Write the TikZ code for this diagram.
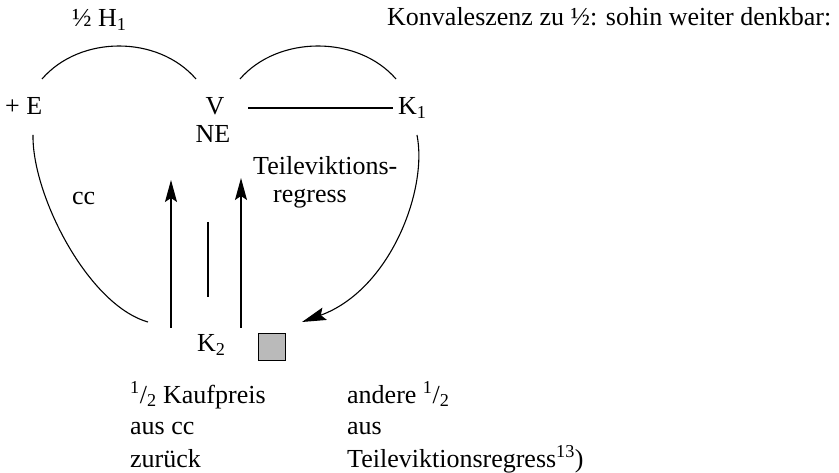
\documentclass[tikz,border=0pt]{standalone}
\usepackage{fontspec}
\setmainfont{Liberation Serif}
\usetikzlibrary{arrows.meta}
\newcommand{\fsz}{\fontsize{26}{31}\selectfont}
\tikzset{
  lbl/.style={inner sep=0pt, anchor=base west, font=\fsz},
  lblc/.style={inner sep=0pt, anchor=base, font=\fsz},
  thin line/.style={line width=1.1pt},
  arr/.style={line width=1.3pt, -{Stealth[length=22pt,width=12pt,inset=4pt]}},
  box/.style={draw, line width=1pt, fill=black!27, minimum size=27pt, inner sep=0pt}
}
\begin{document}
\begin{tikzpicture}[x=1pt,y=-1pt]
\useasboundingbox (0,0) rectangle (839,473);
% texts
\node[lbl] (h1) at (72,27) {½ H\textsubscript{1}};
\node[lbl] (konv) at (387,26) {Konvaleszenz zu ½: sohin weiter denkbar:};
\node[lbl] (E) at (5,115) {+ E};
\node[lblc] (V) at (215,115) {V};
\node[lblc] (NE) at (213,143) {NE};
\node[lbl] (K1) at (398,115) {K\textsubscript{1}};
\node[lbl] (cc) at (72,205) {cc};
\node[lbl] (teil) at (253,175) {Teileviktions-};
\node[lbl] (reg) at (273,203) {regress};
\node[lbl] (K2) at (197,352) {K\textsubscript{2}};
\node[box] (sq) at (271.5,347) {};
\node[lbl] (b1) at (130,403) {\textsuperscript{1}/\textsubscript{2} Kaufpreis};
\node[lbl] (b2) at (130,435) {aus cc};
\node[lbl] (b3) at (130,467) {zurück};
\node[lbl] (c1) at (347,403) {andere \textsuperscript{1}/\textsubscript{2}};
\node[lbl] (c2) at (347,435) {aus};
\node[lbl] (c3) at (347,467) {Teileviktionsregress\textsuperscript{13})};
% coordinates
\coordinate (la1) at (42,79);
\coordinate (la2) at (196,79);
\coordinate (ra1) at (240,79);
\coordinate (ra2) at (396,79);
\coordinate (lc1) at (33,135);
\coordinate (lc2) at (148,322);
\coordinate (rc1) at (417,135);
\coordinate (rc2) at (302,322);
\coordinate (hl1) at (248,108);
\coordinate (hl2) at (393,108);
\coordinate (a1s) at (171,328);
\coordinate (a1e) at (171,180);
\coordinate (a2s) at (241,328);
\coordinate (a2e) at (241,178);
\coordinate (s1) at (208,222);
\coordinate (s2) at (208,297);
% arcs
\draw[thin line] (la1) .. controls (80,35) and (158,35) .. (la2);
\draw[thin line] (ra1) .. controls (278,35) and (358,35) .. (ra2);
\draw[line width=2.2pt] (hl1) -- (hl2);
\draw[thin line] (lc1) .. controls (32,195) and (88,305) .. (lc2);
\draw[line width=1.1pt, -{Stealth[length=24pt,width=13pt,inset=4pt]}] (rc1) .. controls (428,190) and (390,290) .. (rc2);
\draw[arr] (a1s) -- (a1e);
\draw[arr] (a2s) -- (a2e);
\draw[line width=1.3pt] (s1) -- (s2);
\end{tikzpicture}
\end{document}
